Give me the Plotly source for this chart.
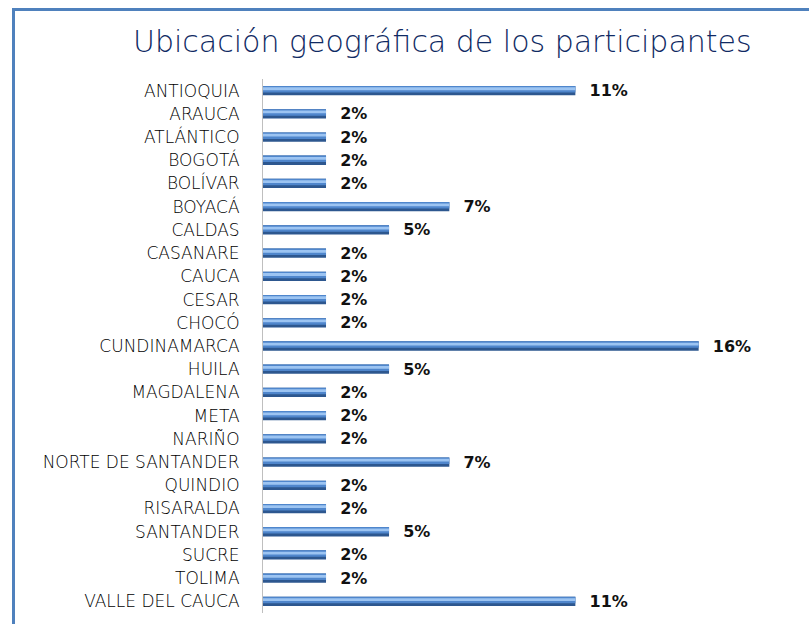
import plotly.graph_objects as go

# participants by department (share of total, %)
departamentos = [
    "ANTIOQUIA", "ARAUCA", "ATLÁNTICO", "BOGOTÁ", "BOLÍVAR", "BOYACÁ",
    "CALDAS", "CASANARE", "CAUCA", "CESAR", "CHOCÓ", "CUNDINAMARCA",
    "HUILA", "MAGDALENA", "META", "NARIÑO", "NORTE DE SANTANDER",
    "QUINDIO", "RISARALDA", "SANTANDER", "SUCRE", "TOLIMA", "VALLE DEL CAUCA",
]
porcentajes = [
    11.4, 2.3, 2.3, 2.3, 2.3, 6.8,
    4.6, 2.3, 2.3, 2.3, 2.3, 15.9,
    4.6, 2.3, 2.3, 2.3, 6.8,
    2.3, 2.3, 4.6, 2.3, 2.3, 11.4,
]
titulo = "Ubicación geográfica de los participantes"

W, H = 809, 624
M_L, M_R, M_T, M_B = 263, 20, 79, 11
PX_PER_UNIT = 27.4


def px_to_paper_x(px):
    return (px - M_L) / (W - M_L - M_R)


def px_to_paper_y(py):
    return 1 - (py - M_T) / (H - M_T - M_B)


def bar_layer(color, width, offset, with_text=False):
    trace = go.Bar(
        x=porcentajes,
        y=departamentos,
        orientation="h",
        width=width,
        offset=offset,
        marker=dict(color=color, line=dict(width=0)),
        hoverinfo="skip",
    )
    if with_text:
        trace.update(
            texttemplate="  %{x:.0f}%",
            textposition="outside",
            constraintext="none",
            textfont=dict(family="DejaVu Sans", size=16, color="#111111",
                          weight="bold"),
            cliponaxis=False,
        )
    return trace


fig = go.Figure()
# fake cylinder look: dark body, mid tone on top, light highlight band
fig.add_trace(bar_layer("#2d578f", 0.4, -0.2, with_text=True))
fig.add_trace(bar_layer("#4f86cc", 0.28, -0.2))
fig.add_trace(bar_layer("#9cc4f2", 0.12, -0.14))

axis_span = (W - M_L - M_R) / PX_PER_UNIT

fig.update_layout(
    width=W,
    height=H,
    margin=dict(l=M_L, r=M_R, t=M_T, b=M_B),
    paper_bgcolor="white",
    plot_bgcolor="white",
    barmode="overlay",
    showlegend=False,
    xaxis=dict(
        range=[0, axis_span],
        visible=False,
    ),
    yaxis=dict(
        autorange="reversed",
        showline=True,
        linecolor="#bfbfbf",
        linewidth=1,
        showgrid=False,
        ticks="",
        ticklabelstandoff=19,
        tickfont=dict(family="DejaVu Sans", size=17, color="#000000",
                      weight=200),
    ),
    annotations=[
        dict(
            text=titulo,
            xref="paper",
            yref="paper",
            x=px_to_paper_x(442),
            y=px_to_paper_y(42),
            xanchor="center",
            yanchor="middle",
            showarrow=False,
            font=dict(family="DejaVu Sans", size=30, color="#0f2a63",
                      weight=200),
        )
    ],
    shapes=[
        # frame around the chart (top and left edges visible)
        dict(
            type="rect",
            xref="paper",
            yref="paper",
            x0=px_to_paper_x(13.5),
            x1=px_to_paper_x(W + 20),
            y0=px_to_paper_y(H + 20),
            y1=px_to_paper_y(9.5),
            line=dict(color="#4f81bd", width=3),
            layer="above",
        )
    ],
)

fig.write_html(
    "out.html",
    config={"displayModeBar": False},
    post_script="document.body.style.margin = '0';",
)
